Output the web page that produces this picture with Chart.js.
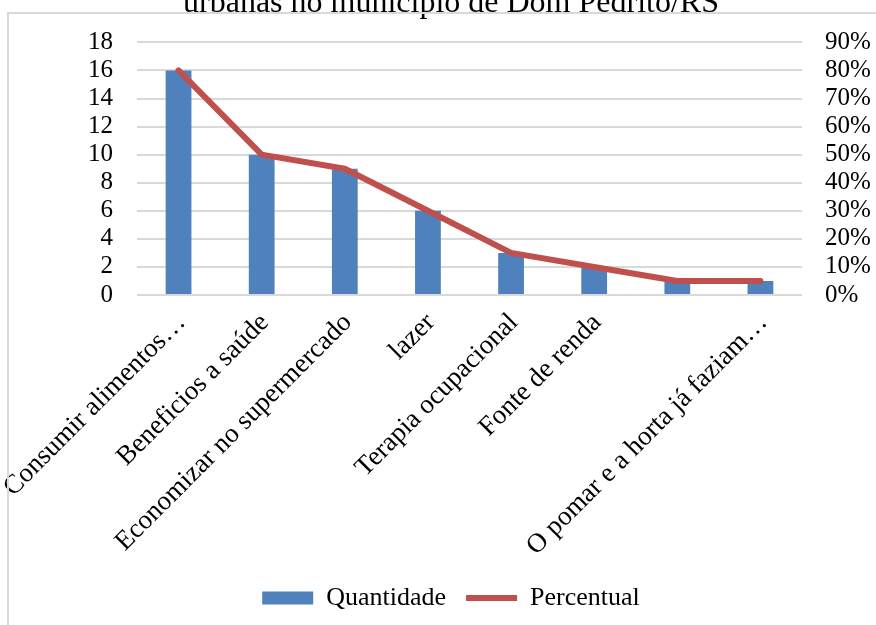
<!DOCTYPE html>
<html>
<head>
<meta charset="utf-8">
<script src="https://cdn.jsdelivr.net/npm/chart.js@4/dist/chart.umd.min.js"></script>
<style>
  html, body { margin: 0; padding: 0; background: #fff; overflow: hidden; }
  #wrap { position: relative; width: 876px; height: 625px; overflow: hidden; background: #fff; }
  #holder { position: absolute; left: 0; top: -30px; width: 876px; height: 655px; z-index: 1; }
  #frame { position: absolute; left: 7px; top: 12px; width: 900px; height: 700px; z-index: 2;
           pointer-events: none;
           border-left: 2px solid #d9d9d9; border-top: 2px solid #d9d9d9; }
</style>
</head>
<body>
<div id="wrap">
  <div id="holder"><canvas id="chart"></canvas></div>
  <div id="frame"></div>
</div>
<script>
// Motivos citados para manter hortas urbanas
const categories = [
  'Consumir alimentos…',
  'Beneficios a saúde',
  'Economizar no supermercado',
  'lazer',
  'Terapia ocupacional',
  'Fonte de renda',
  '',
  'O pomar e a horta já faziam…'
];
const quantidade = [16, 10, 9, 6, 3, 2, 1, 1];
const percentual = [80, 50, 45, 30, 15, 10, 5, 5];   // % do total de respostas
const leftTicks = [0, 2, 4, 6, 8, 10, 12, 14, 16, 18];
const rightTicks = [0, 10, 20, 30, 40, 50, 60, 70, 80, 90];
const titleText = 'urbanas no município de Dom Pedrito/RS';

const serif = "'Liberation Serif', 'Times New Roman', serif";
const gridColor = '#d9d9d9';

new Chart(document.getElementById('chart'), {
  data: {
    labels: categories,
    datasets: [
      {
        type: 'line',
        label: 'Percentual',
        data: percentual,
        yAxisID: 'y1',
        borderColor: '#C0504D',
        backgroundColor: '#C0504D',
        borderWidth: 6,
        borderCapStyle: 'round',
        borderJoinStyle: 'round',
        pointRadius: 0,
        pointHoverRadius: 0,
        pointStyle: 'line',
        tension: 0,
        order: 1
      },
      {
        type: 'bar',
        label: 'Quantidade',
        data: quantidade,
        yAxisID: 'y',
        backgroundColor: '#4F81BD',
        borderWidth: 0,
        barPercentage: 0.31,
        categoryPercentage: 1.0,
        pointStyle: 'rect',
        order: 2
      }
    ]
  },
  options: {
    responsive: true,
    maintainAspectRatio: false,
    animation: false,
    layout: { padding: { left: 26, right: 0, top: 0, bottom: 4 } },
    plugins: {
      title: {
        display: true,
        text: titleText,
        color: '#000',
        font: { family: serif, size: 32, weight: 'normal' },
        padding: { top: 14, bottom: 20 }
      },
      legend: {
        position: 'bottom',
        reverse: true,
        labels: {
          color: '#000',
          font: { family: serif, size: 26 },
          usePointStyle: true,
          pointStyleWidth: 51,
          boxHeight: 13,
          padding: 20
        }
      },
      tooltip: { enabled: false }
    },
    scales: {
      x: {
        grid: { display: false, drawTicks: false },
        border: { display: false },
        ticks: {
          color: '#000',
          font: { family: serif, size: 27 },
          minRotation: 45,
          maxRotation: 45,
          autoSkip: false,
          labelOffset: 3,
          padding: 12
        },
        afterFit: s => {
          s.height = 270;
          s.paddingLeft = 0;
          s.paddingRight = 0;
        }
      },
      y: {
        position: 'left',
        min: 0,
        max: 18,
        afterBuildTicks: s => { s.ticks = leftTicks.map(v => ({ value: v })); },
        grid: { color: gridColor, lineWidth: 2, drawTicks: false },
        border: { display: false },
        ticks: {
          color: '#000',
          font: { family: serif, size: 25 },
          autoSkip: false,
          padding: 24
        },
        afterFit: s => { s.width = 111; }
      },
      y1: {
        position: 'right',
        min: 0,
        max: 90,
        afterBuildTicks: s => { s.ticks = rightTicks.map(v => ({ value: v })); },
        grid: { display: false, drawTicks: false },
        border: { display: false },
        ticks: {
          color: '#000',
          font: { family: serif, size: 25 },
          autoSkip: false,
          padding: 23,
          callback: v => v + '%'
        },
        afterFit: s => { s.width = 74; }
      }
    }
  }
});
</script>
</body>
</html>
